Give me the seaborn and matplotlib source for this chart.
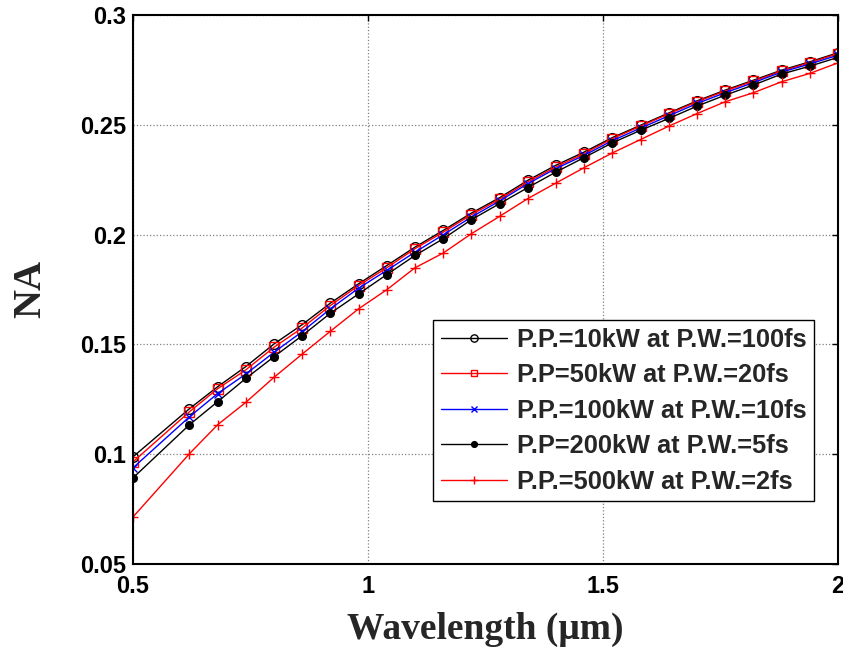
import numpy as np
import pandas as pd
import matplotlib
matplotlib.use("Agg")
import matplotlib.pyplot as plt
import seaborn as sns

wavelength = [0.50, 0.62, 0.68, 0.74, 0.80, 0.86, 0.92, 0.98, 1.04, 1.10, 1.16, 1.22, 1.28,
              1.34, 1.40, 1.46, 1.52, 1.58, 1.64, 1.70, 1.76, 1.82, 1.88, 1.94, 2.00]

na_10kw = [0.0988, 0.1207, 0.1307, 0.1399, 0.1502, 0.1590, 0.1688, 0.1776, 0.1859, 0.1943,
           0.2019, 0.2098, 0.2168, 0.2247, 0.2316, 0.2376, 0.2442, 0.2498, 0.2554, 0.2609,
           0.2658, 0.2703, 0.2749, 0.2787, 0.2828]
na_50kw = [0.0965, 0.1193, 0.1298, 0.1384, 0.1487, 0.1575, 0.1677, 0.1768, 0.1849, 0.1936,
           0.2011, 0.2091, 0.2161, 0.2240, 0.2308, 0.2369, 0.2437, 0.2494, 0.2550, 0.2605,
           0.2654, 0.2699, 0.2745, 0.2783, 0.2824]
na_100kw = [0.0938, 0.1170, 0.1276, 0.1365, 0.1464, 0.1558, 0.1662, 0.1756, 0.1837, 0.1920,
            0.1999, 0.2080, 0.2153, 0.2232, 0.2301, 0.2361, 0.2428, 0.2485, 0.2541, 0.2597,
            0.2646, 0.2692, 0.2740, 0.2777, 0.2817]
na_200kw = [0.0892, 0.1134, 0.1239, 0.1345, 0.1444, 0.1540, 0.1642, 0.1730, 0.1818, 0.1905,
            0.1981, 0.2068, 0.2141, 0.2214, 0.2285, 0.2351, 0.2418, 0.2475, 0.2529, 0.2585,
            0.2635, 0.2681, 0.2731, 0.2767, 0.2807]
na_500kw = [0.0714, 0.1002, 0.1134, 0.1236, 0.1350, 0.1456, 0.1560, 0.1662, 0.1749, 0.1849,
            0.1916, 0.2004, 0.2083, 0.2164, 0.2235, 0.2305, 0.2372, 0.2433, 0.2494, 0.2551,
            0.2605, 0.2646, 0.2696, 0.2734, 0.2782]

labels = ["P.P.=10kW at P.W.=100fs", "P.P=50kW at P.W.=20fs", "P.P.=100kW at P.W.=10fs",
          "P.P=200kW at P.W.=5fs", "P.P.=500kW at P.W.=2fs"]
series = [na_10kw, na_50kw, na_100kw, na_200kw, na_500kw]

xticks = [0.5, 1, 1.5, 2]
xtick_labels = ["0.5", "1", "1.5", "2"]
yticks = [0.05, 0.1, 0.15, 0.2, 0.25, 0.3]
ytick_labels = ["0.05", "0.1", "0.15", "0.2", "0.25", "0.3"]

sns.set_theme(style="white")
plt.rcParams['font.family'] = ['Liberation Sans', 'DejaVu Sans']

styles = [
    dict(color="black", marker="o", mfc="none", mec="black", ms=7),
    dict(color="red", marker="s", mfc="none", mec="red", ms=6.5),
    dict(color="blue", marker="x", mfc="none", mec="blue", ms=6),
    dict(color="black", marker="o", mfc="black", mec="black", ms=5.5),
    dict(color="red", marker="+", mfc="none", mec="red", ms=7),
]

fig = plt.figure(figsize=(8.43, 6.47), dpi=100)
ax = fig.add_axes([133/843, 1-564/647, (838-133)/843, (564-15)/647])

for lab, vals, st in zip(labels, series, styles):
    df = pd.DataFrame({"x": wavelength, "y": vals})
    sns.lineplot(data=df, x="x", y="y", ax=ax, label=lab, sort=False, estimator=None,
                 color=st["color"], marker=st["marker"], markerfacecolor=st["mfc"],
                 markeredgecolor=st["mec"], markersize=st["ms"], linewidth=1.0,
                 markeredgewidth=1.0)

ax.set_xlim(0.5, 2)
ax.set_ylim(0.05, 0.3)
ax.set_xticks(xticks)
ax.set_xticklabels(xtick_labels)
ax.set_yticks(yticks)
ax.set_yticklabels(ytick_labels)
ax.tick_params(direction="in", length=4, width=1, colors="black", labelsize=17,
               top=True, right=True, pad=5)
ax.tick_params(axis="x", pad=8)
for t in ax.get_xticklabels() + ax.get_yticklabels():
    t.set_fontweight("bold")
ax.grid(True, linestyle=":", color="0.5", linewidth=0.9)
for sp in ax.spines.values():
    sp.set_visible(True)
    sp.set_color("black")
    sp.set_linewidth(1.5)

ax.set_xlabel("Wavelength (\u03bcm)", fontsize=27, fontweight="bold",
              family=["Liberation Serif", "DejaVu Serif"], labelpad=10)
ax.set_ylabel("NA", fontsize=29, fontweight="bold",
              family=["Liberation Serif", "DejaVu Serif"], labelpad=22)

leg = ax.legend(loc="upper left", bbox_to_anchor=(0.4255, 0.444),
                prop={"weight": "bold", "size": 18.3}, frameon=True, fancybox=False,
                edgecolor="black", framealpha=1, borderpad=0.3, labelspacing=0.45,
                handlelength=2.6, handletextpad=0.4, markerscale=0.75, borderaxespad=0)
leg.get_frame().set_linewidth(1.0)

fig.savefig("out.png", dpi=100, facecolor="white")
